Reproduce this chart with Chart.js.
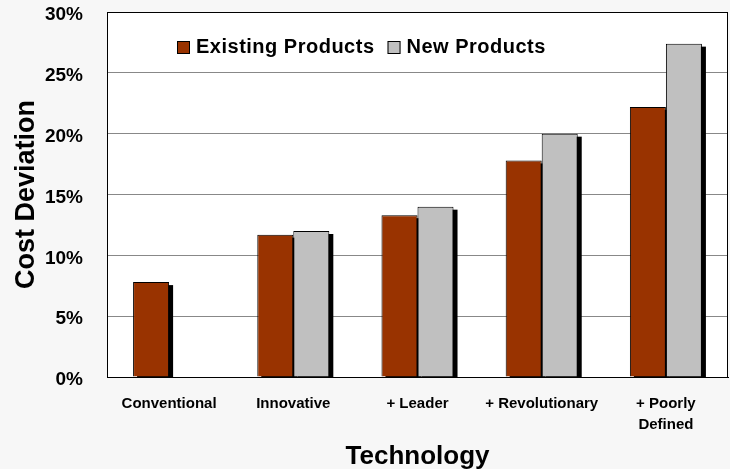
<!DOCTYPE html>
<html>
<head>
<meta charset="utf-8">
<script src="https://cdn.jsdelivr.net/npm/chart.js@4/dist/chart.umd.min.js"></script>
<style>
  html, body { margin: 0; padding: 0; background: #f7f7f7; }
  #wrap { width: 730px; height: 469px; }
</style>
</head>
<body>
<div id="wrap"><canvas id="costChart" width="730" height="469"></canvas></div>
<script>
// data
const categories = ["Conventional", "Innovative", "+ Leader", "+ Revolutionary", ["+ Poorly", "Defined"]];
const existingProducts = [7.8, 11.7, 13.3, 17.8, 22.2];
const newProducts = [null, 12.0, 14.0, 20.0, 27.4];
const yTicks = [0, 5, 10, 15, 20, 25, 30];

// page bg + white plot area
const backgroundPlugin = {
  id: "bg",
  beforeDraw(chart) {
    const { ctx, chartArea: a } = chart;
    ctx.save();
    ctx.fillStyle = "#f7f7f7";
    ctx.fillRect(0, 0, chart.width, chart.height);
    ctx.fillStyle = "#ffffff";
    ctx.fillRect(a.left, a.top, a.right - a.left, a.bottom - a.top);
    ctx.restore();
  }
};

// black drop shadow behind every bar
const shadowPlugin = {
  id: "barShadow",
  beforeDatasetsDraw(chart) {
    const { ctx, chartArea: a } = chart;
    ctx.save();
    ctx.beginPath();
    ctx.rect(a.left, a.top, a.right - a.left, a.bottom - a.top);
    ctx.clip();
    ctx.fillStyle = "#000000";
    chart.data.datasets.forEach((ds, i) => {
      chart.getDatasetMeta(i).data.forEach((bar, j) => {
        if (ds.data[j] == null) return;
        const w = bar.width;
        ctx.fillRect(bar.x - w / 2 + 4, bar.y + 3, w, bar.base - bar.y);
      });
    });
    ctx.restore();
  }
};

// legend drawn inside the plot, top left
const innerLegend = {
  id: "innerLegend",
  afterDraw(chart) {
    const { ctx } = chart;
    ctx.save();
    ctx.font = "bold 20px 'Liberation Sans', Arial, sans-serif";
    ctx.letterSpacing = "0.5px";
    ctx.textBaseline = "middle";
    let x = 177;
    const y = 47;
    chart.data.datasets.forEach(ds => {
      ctx.fillStyle = ds.backgroundColor;
      ctx.fillRect(x, y - 6, 13, 13);
      ctx.strokeStyle = "#000";
      ctx.lineWidth = 1;
      ctx.strokeRect(x + 0.5, y - 5.5, 12, 12);
      ctx.fillStyle = "#000";
      ctx.fillText(ds.label, x + 19, y);
      x += 19 + ctx.measureText(ds.label).width + 13;
    });
    ctx.restore();
  }
};

new Chart(document.getElementById("costChart"), {
  type: "bar",
  data: {
    labels: categories,
    datasets: [
      {
        label: "Existing Products",
        data: existingProducts,
        backgroundColor: "#993300",
        borderColor: "#000000",
        borderWidth: 1,
        barPercentage: 1.0,
        categoryPercentage: 0.58,
      },
      {
        label: "New Products",
        data: newProducts,
        backgroundColor: "#c0c0c0",
        borderColor: "#000000",
        borderWidth: 1,
        barPercentage: 1.0,
        categoryPercentage: 0.58,
      },
    ],
  },
  options: {
    responsive: false,
    animation: false,
    layout: { autoPadding: false, padding: { top: 12, right: 2, left: 0, bottom: 0 } },
    plugins: {
      legend: { display: false },
      tooltip: { enabled: false },
    },
    scales: {
      x: {
        grid: { display: false, drawTicks: false },
        border: { display: true, color: "#000", width: 1 },
        ticks: {
          color: "#000",
          padding: 16,
          font: { family: "'Liberation Sans', Arial", size: 15, weight: "bold", lineHeight: 1.4 },
          maxRotation: 0,
          autoSkip: false,
        },
        title: {
          display: true,
          text: "Technology",
          color: "#000",
          font: { family: "'Liberation Sans', Arial", size: 26, weight: "bold" },
          padding: { top: 0, bottom: -3 },
        },
        afterFit(scale) {
          scale.height = 92;
          scale.paddingLeft = 0;
          scale.paddingRight = 0;
        },
      },
      y: {
        min: 0,
        max: 30,
        afterBuildTicks(scale) { scale.ticks = yTicks.map(v => ({ value: v })); },
        grid: { color: "#888888", lineWidth: 1, drawTicks: false },
        border: { display: true, color: "#000", width: 1 },
        ticks: {
          color: "#000",
          padding: 24,
          labelOffset: 3,
          font: { family: "'Liberation Sans', Arial", size: 19, weight: "bold" },
          callback: v => v + "%",
        },
        title: {
          display: true,
          text: "Cost Deviation",
          color: "#000",
          font: { family: "'Liberation Sans', Arial", size: 27, weight: "bold" },
          padding: { top: 10, bottom: 0 },
        },
        afterFit(scale) {
          scale.width = 107;
          // tick padding would otherwise push the plot down
          scale.paddingTop = 0;
          scale.paddingBottom = 0;
        },
      },
    },
  },
  plugins: [backgroundPlugin, shadowPlugin, innerLegend,
    {
      id: "frame",
      afterDatasetsDraw(chart) {
        const { ctx, chartArea: a } = chart;
        ctx.save();
        ctx.strokeStyle = "#000";
        ctx.lineWidth = 1;
        ctx.strokeRect(Math.round(a.left) + 0.5, Math.round(a.top) + 0.5, Math.round(a.right - a.left) - 1, Math.round(a.bottom - a.top));
        ctx.restore();
      }
    }],
});
</script>
</body>
</html>
